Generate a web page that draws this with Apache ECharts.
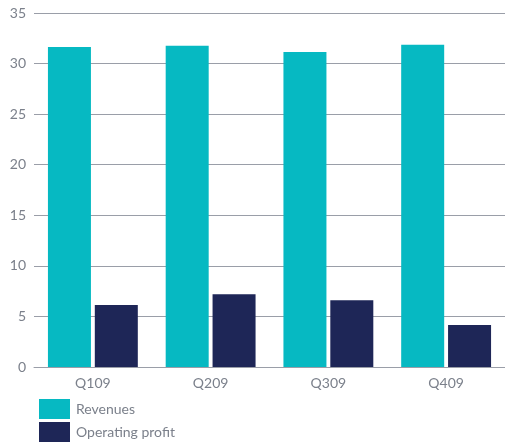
<!DOCTYPE html>
<html><head><meta charset="utf-8">
<script src="https://cdn.jsdelivr.net/npm/echarts@6/dist/echarts.min.js"></script>
<style>html,body{margin:0;padding:0;background:#fff}#c{width:505px;height:447px}</style>
</head><body><div id="c"></div>
<script>
const categories = ['Q109','Q209','Q309','Q409'];
const revenues = [31.65, 31.75, 31.15, 31.85];
const operatingProfit = [6.13, 7.2, 6.6, 4.15];
const yTicks = [0, 5, 10, 15, 20, 25, 30, 35];

const chart = echarts.init(document.getElementById('c'));
const txt = '#7b808b';
chart.setOption({
  animation: false,
  grid: {left: 34, right: 0, top: 13, bottom: 80},
  legend: {
    orient: 'vertical', left: 39, top: 399, padding: 0, itemWidth: 31, itemHeight: 20, itemGap: 3,
    icon: 'rect', textStyle: {color: txt, fontSize: 14, fontFamily: 'Lato', padding: [0, 0, 0, 1]},
    data: ['Revenues', 'Operating profit']
  },
  xAxis: {
    type: 'category', data: categories,
    axisLine: {lineStyle: {color: '#9a9ea8', width: 1}},
    axisTick: {show: false},
    axisLabel: {color: txt, fontSize: 14, fontFamily: 'Lato', margin: 9}
  },
  yAxis: {
    type: 'value', min: yTicks[0], max: yTicks[yTicks.length - 1], interval: 5,
    axisLine: {show: false}, axisTick: {show: false},
    splitLine: {lineStyle: {color: '#9a9ea8', width: 1}},
    axisLabel: {color: txt, fontSize: 14, fontFamily: 'Lato', margin: 8}
  },
  series: [
    {name: 'Revenues', type: 'bar', data: revenues, barWidth: 43, barGap: '9%', itemStyle: {color: '#06b9c2'}},
    {name: 'Operating profit', type: 'bar', data: operatingProfit, barWidth: 43, itemStyle: {color: '#1e2657'}}
  ]
});
</script></body></html>
